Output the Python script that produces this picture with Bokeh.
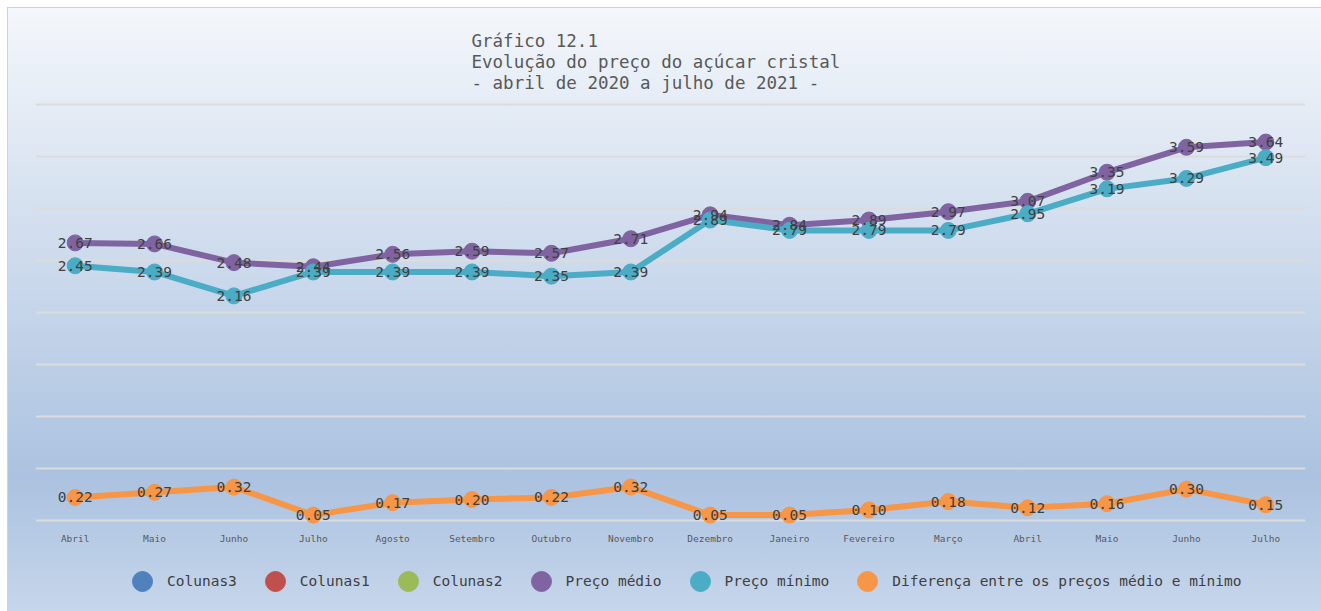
from bokeh.plotting import figure
from bokeh.layouts import column
from bokeh.models import (ColumnDataSource, FixedTicker, Legend, LegendItem, Range1d)
from bokeh.core.properties import value
from bokeh.embed import file_html
from bokeh.resources import INLINE

# ---------------- data ----------------
months = ["Abril", "Maio", "Junho", "Julho", "Agosto", "Setembro", "Outubro",
          "Novembro", "Dezembro", "Janeiro", "Fevereiro", "Março", "Abril",
          "Maio", "Junho", "Julho"]
preco_medio = [2.67, 2.66, 2.48, 2.44, 2.56, 2.59, 2.57, 2.71, 2.94, 2.84,
               2.89, 2.97, 3.07, 3.35, 3.59, 3.64]
preco_minimo = [2.45, 2.39, 2.16, 2.39, 2.39, 2.39, 2.35, 2.39, 2.89, 2.79,
                2.79, 2.79, 2.95, 3.19, 3.29, 3.49]
diferenca = [0.22, 0.27, 0.32, 0.05, 0.17, 0.20, 0.22, 0.32, 0.05, 0.05,
             0.10, 0.18, 0.12, 0.16, 0.30, 0.15]
# empty series (no values in the source chart)
colunas3 = [float("nan")]
colunas1 = [float("nan")]
colunas2 = [float("nan")]
grid_values = [0, 0.5, 1.0, 1.5, 2.0, 2.5, 3.0, 3.5, 4.0]

title_text = ("Gráfico 12.1\n"
              "Evolução do preço do açúcar cristal\n"
              "- abril de 2020 a julho de 2021 -")

MONO = "DejaVu Sans Mono"
W = 1313
H_MAIN = 547
H_LEG = 56

p = figure(width=W, height=H_MAIN, output_backend="svg", toolbar_location=None,
           x_range=Range1d(-0.5, 15.5), y_range=Range1d(-0.05, 4.05),
           min_border_left=27, min_border_right=16, min_border_top=91,
           min_border_bottom=30)

p.background_fill_alpha = 0
p.border_fill_alpha = 0
p.outline_line_color = None

# title
p.title.text = title_text
p.title.text_font = MONO
p.title.text_font_size = "17.5px"
p.title.text_font_style = "normal"
p.title.text_color = "#595959"
p.title.text_line_height = 1.07
p.title.align = "left"
p.title.offset = 436
p.title.standoff = 12

# axes & grid
p.yaxis.visible = False
p.xgrid.visible = False
p.ygrid.ticker = FixedTicker(ticks=grid_values)
p.ygrid.grid_line_color = "#dcdcdc"
p.ygrid.grid_line_width = 2

p.xaxis.ticker = FixedTicker(ticks=list(range(len(months))))
p.xaxis.major_label_overrides = {i: m for i, m in enumerate(months)}
p.xaxis.axis_line_color = None
p.xaxis.major_tick_line_color = None
p.xaxis.minor_tick_line_color = None
p.xaxis.major_tick_out = 0
p.xaxis.major_tick_in = 0
p.xaxis.major_label_standoff = 7
p.xaxis.major_label_text_font = MONO
p.xaxis.major_label_text_font_size = "9.5px"
p.xaxis.major_label_text_color = "#595959"

x = list(range(len(months)))

# legend-only figure underneath the chart
pl = figure(width=W, height=H_LEG, output_backend="svg", toolbar_location=None,
            x_range=Range1d(0, 1), y_range=Range1d(0, 1),
            x_axis_location=None, y_axis_location=None,
            min_border_left=0, min_border_right=0, min_border_top=0,
            min_border_bottom=0)
pl.grid.visible = False
pl.background_fill_alpha = 0
pl.border_fill_alpha = 0
pl.outline_line_color = None

items = []
for name, vals, col in [("Colunas3", colunas3, "#4f81bd"),
                        ("Colunas1", colunas1, "#c0504d"),
                        ("Colunas2", colunas2, "#9bbb59")]:
    src = ColumnDataSource(dict(x=x[:len(vals)], y=vals))
    p.line("x", "y", source=src, line_color=col, line_width=6)
    p.scatter("x", "y", source=src, size=16, fill_color=col, line_color=col)
    proxy = pl.scatter("x", "y", source=src, size=16, fill_color=col, line_color=col)
    items.append(LegendItem(label=name, renderers=[proxy]))

series = [("Preço médio", preco_medio, "#8064a2"),
          ("Preço mínimo", preco_minimo, "#4bacc6"),
          ("Diferença entre os preços médio e mínimo", diferenca, "#f79646")]

label_sources = []
for name, vals, col in series:
    src = ColumnDataSource(dict(x=x, y=vals, lab=["%.2f" % v for v in vals]))
    p.line("x", "y", source=src, line_color=col, line_width=6, line_join="round")
    p.scatter("x", "y", source=src, size=16, fill_color=col, line_color=col)
    empty = ColumnDataSource(dict(x=[0], y=[float("nan")]))
    proxy = pl.scatter("x", "y", source=empty, size=16, fill_color=col, line_color=col)
    items.append(LegendItem(label=name, renderers=[proxy]))
    label_sources.append(src)

for src in label_sources:
    p.text("x", "y", text="lab", source=src, text_font=value(MONO),
           text_font_size="14.5px", text_color="#404040",
           text_align="center", text_baseline="middle")

legend = Legend(items=items, orientation="horizontal", location=(82, 5),
                background_fill_alpha=0, border_line_color=None,
                label_text_font=MONO, label_text_font_size="14.5px",
                label_text_color="#404040", glyph_width=50, glyph_height=50,
                spacing=13, label_standoff=0, margin=0, padding=0)
pl.add_layout(legend)

layout = column(p, pl, spacing=0, styles={
    "background": "linear-gradient(180deg, #f4f7fb 0%, #abc2e0 78%, #c6d6eb 100%)",
    "border-left": "1px solid #d0d0d0",
    "border-top": "1px solid #d0d0d0",
    "margin-left": "7px",
    "margin-top": "7px",
})

open("out.html", "w").write(file_html(layout, INLINE))
